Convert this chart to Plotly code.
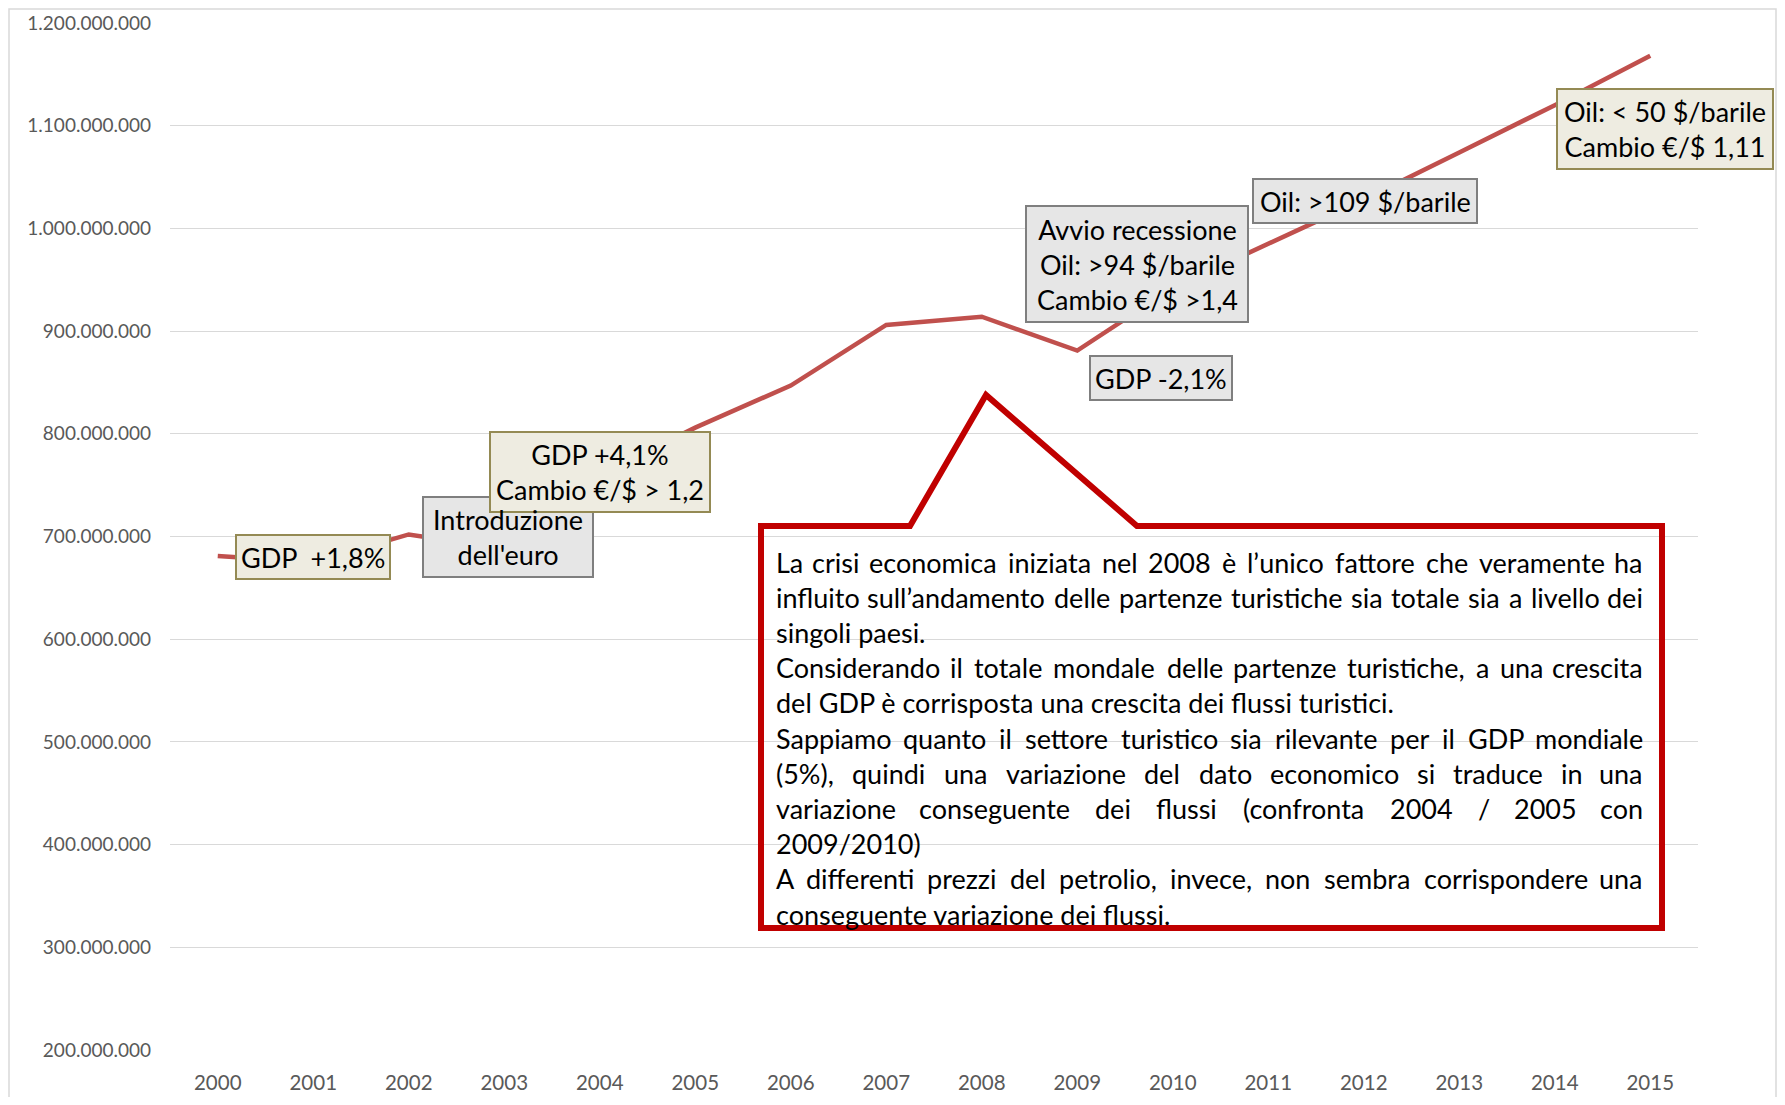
import plotly.graph_objects as go

# Dati della serie (partenze turistiche nel mondo)
anni = ["2000", "2001", "2002", "2003", "2004", "2005", "2006", "2007",
        "2008", "2009", "2010", "2011", "2012", "2013", "2014", "2015"]
arrivi = [681e6, 675e6, 702e6, 688e6, 760e6, 806e6, 847e6, 906e6,
          914e6, 881e6, 942e6, 985e6, 1028e6, 1074e6, 1120e6, 1168e6]

valori_y = [200e6, 300e6, 400e6, 500e6, 600e6, 700e6, 800e6, 900e6,
            1000e6, 1100e6, 1200e6]
etichette_y = ["200.000.000", "300.000.000", "400.000.000", "500.000.000",
               "600.000.000", "700.000.000", "800.000.000", "900.000.000",
               "1.000.000.000", "1.100.000.000", "1.200.000.000"]

# Testi dei riquadri
testi_riquadri = [
    "GDP  +1,8%",
    "Introduzione<br>dell'euro",
    "GDP +4,1%<br>Cambio €/$ > 1,2",
    "Avvio recessione<br>Oil: >94 $/barile<br>Cambio €/$ >1,4",
    "GDP -2,1%",
    "Oil: >109 $/barile",
    "Oil: < 50 $/barile<br>Cambio €/$ 1,11",
]
tipi_riquadri = ["beige", "grigio", "beige", "grigio", "grigio", "grigio", "beige"]

# Testo del commento (righe come nell'originale, True = riga giustificata)
righe_commento = [
    ("La crisi economica iniziata nel 2008 è l’unico fattore che veramente ha", True),
    ("influito sull’andamento delle partenze turistiche sia totale sia a livello dei", True),
    ("singoli paesi.", False),
    ("Considerando il totale mondale delle partenze turistiche, a una crescita", True),
    ("del GDP è corrisposta una crescita dei flussi turistici.", False),
    ("Sappiamo quanto il settore turistico sia rilevante per il GDP mondiale", True),
    ("(5%), quindi una variazione del dato economico si traduce in una", True),
    ("variazione conseguente dei flussi (confronta 2004 / 2005 con", True),
    ("2009/2010)", False),
    ("A differenti prezzi del petrolio, invece, non sembra corrispondere una", True),
    ("conseguente variazione dei flussi.", False),
]

# ---- impaginazione ----
# la pagina html ha un margine di 8px intorno alla figura
OFF = 8
W, H = 1769, 1089
ML, MR, MT, MB = 162, 79, 15, 47
PW, PH = W - ML - MR, H - MT - MB
FONT = "Lato"


# coordinate in pixel della pagina -> coordinate paper
def px(x):
    return (x - OFF - ML) / PW


def py(y):
    return 1 - (y - OFF - MT) / PH


# posizioni dei riquadri in pixel (x0, x1, y0, y1)
pos_riquadri = [
    (236, 390, 535, 579),
    (423, 593, 497, 577),
    (490, 710, 432, 512),
    (1026, 1248, 206, 322),
    (1090, 1232, 356, 400),
    (1253, 1477, 179, 223),
    (1557, 1773, 89, 169),
]
stili = {
    "beige": dict(fill="#EEECE1", bordo="#948A54"),
    "grigio": dict(fill="#E6E6E6", bordo="#7F7F7F"),
}

# larghezze approssimate dei caratteri (em) per distribuire le parole
LARGH = {
    " ": 0.19, "a": 0.50, "b": 0.56, "c": 0.46, "d": 0.56, "e": 0.52, "f": 0.33,
    "g": 0.50, "h": 0.56, "i": 0.24, "j": 0.24, "k": 0.50, "l": 0.24, "m": 0.84,
    "n": 0.56, "o": 0.56, "p": 0.55, "q": 0.56, "r": 0.37, "s": 0.43, "t": 0.35,
    "u": 0.56, "v": 0.51, "w": 0.78, "x": 0.50, "y": 0.51, "z": 0.45, "è": 0.52,
    "A": 0.68, "C": 0.68, "D": 0.74, "G": 0.72, "L": 0.50, "P": 0.60, "S": 0.56,
    ",": 0.22, ".": 0.22, "(": 0.31, ")": 0.31, "/": 0.37, "%": 0.80, "’": 0.22,
}


def larghezza(parola, size):
    return sum(LARGH.get(c, 0.58) for c in parola) * size


fig = go.Figure()
fig.add_trace(go.Scatter(x=anni, y=arrivi, mode="lines",
                         line=dict(color="#C0504D", width=4.5),
                         hoverinfo="skip", showlegend=False))

shapes = []
annotations = []

# bordo esterno del grafico
shapes.append(dict(type="rect", xref="paper", yref="paper", layer="below",
                   x0=px(9), x1=px(1776), y0=py(1110), y1=py(9),
                   line=dict(color="#D9D9D9", width=1.5), fillcolor="rgba(0,0,0,0)"))

for testo, tipo, (x0, x1, y0, y1) in zip(testi_riquadri, tipi_riquadri, pos_riquadri):
    st = stili[tipo]
    shapes.append(dict(type="rect", xref="paper", yref="paper", layer="above",
                       x0=px(x0), x1=px(x1), y0=py(y1), y1=py(y0),
                       fillcolor=st["fill"], line=dict(color=st["bordo"], width=2)))
    annotations.append(dict(xref="paper", yref="paper", x=px((x0 + x1) / 2),
                            y=py((y0 + y1) / 2), xanchor="center", yanchor="middle",
                            text=testo, showarrow=False,
                            font=dict(family=FONT, size=27, color="#000000")))

# fumetto con il commento
cx0, cx1, cy0, cy1 = 761, 1662, 526, 928
punta = [(910, 526), (986, 395), (1137, 526)]
pts = [(cx0, cy0), punta[0], punta[1], punta[2], (cx1, cy0), (cx1, cy1), (cx0, cy1)]
path = "M " + " L ".join(f"{px(x):.5f},{py(y):.5f}" for x, y in pts) + " Z"
shapes.append(dict(type="path", xref="paper", yref="paper", layer="above", path=path,
                   line=dict(color="#C00000", width=6), fillcolor="rgba(0,0,0,0)"))

fs = 27
tx0, tx1 = 774, 1645
for i, (riga, giust) in enumerate(righe_commento):
    yy = py(562 + i * 35.2)
    if not giust:
        annotations.append(dict(xref="paper", yref="paper", x=px(tx0), y=yy,
                                xanchor="left", yanchor="middle", text=riga,
                                showarrow=False, font=dict(family=FONT, size=fs, color="#000")))
        continue
    parole = riga.split(" ")
    larg = [larghezza(p, fs) for p in parole]
    spazio = (tx1 - tx0 - sum(larg)) / (len(parole) - 1)
    cur = tx0
    for j, (p, w) in enumerate(zip(parole, larg)):
        if j == 0:
            x, anc = cur, "left"
        elif j == len(parole) - 1:
            x, anc = tx1, "right"
        else:
            x, anc = cur + w / 2, "center"
        annotations.append(dict(xref="paper", yref="paper", x=px(x), y=yy,
                                xanchor=anc, yanchor="middle", text=p,
                                showarrow=False, font=dict(family=FONT, size=fs, color="#000")))
        cur += w + spazio

fig.update_layout(
    width=W, height=H,
    margin=dict(l=ML, r=MR, t=MT, b=MB),
    paper_bgcolor="white", plot_bgcolor="white",
    font=dict(family=FONT, color="#595959"),
    showlegend=False,
    shapes=shapes,
    annotations=annotations,
    xaxis=dict(type="category", range=[-0.5, 15.5], showgrid=False, zeroline=False,
               showline=False, ticks="", tickfont=dict(size=20.5, color="#595959"),
               ticklabelstandoff=18, automargin=False),
    yaxis=dict(range=[200e6, 1200e6], tickvals=valori_y, ticktext=etichette_y,
               showgrid=True, gridcolor="#D9D9D9", gridwidth=1.3, zeroline=False,
               showline=False, ticks="", tickfont=dict(size=19, color="#595959"),
               ticklabelstandoff=18, automargin=False),
)

fig.write_html("out.html")
